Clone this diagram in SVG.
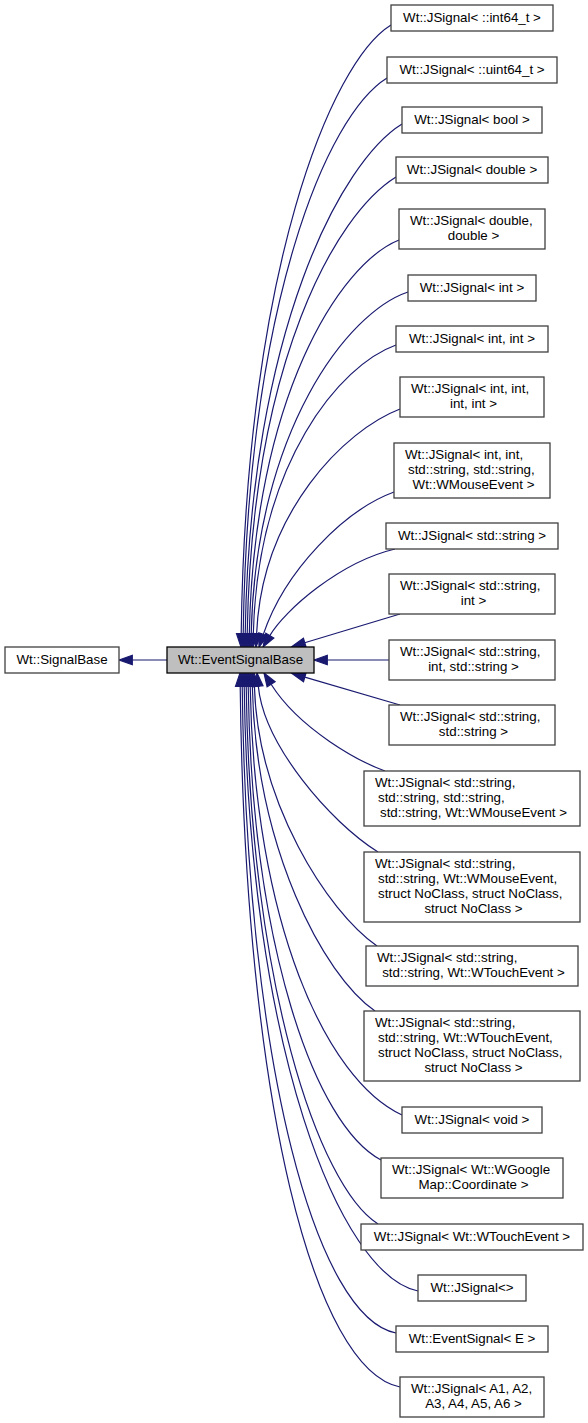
<svg xmlns="http://www.w3.org/2000/svg" width="588" height="1423" viewBox="0 0 588 1423">
<style>
.node rect{fill:#fff;stroke:#404040;stroke-width:1.3}
.node.hl rect{fill:#bfbfbf;stroke:#000}
.node text{font-family:"Liberation Sans",Arial,Helvetica,sans-serif;font-size:13.33px;fill:#000}
.m{text-anchor:middle}
.s{text-anchor:start}
.edge path{fill:none;stroke:#191970;stroke-width:1.2}
.edge polygon{fill:#191970;stroke:#191970;stroke-width:1.2}
</style>
<rect width="588" height="1423" fill="#fff"/>
<g id="connectors" class="edge">
<path d="M167,660 L132.3,660"/><polygon points="119,660 132.3,655.3 132.3,664.7"/>
<path d="M391,25 C331,62 246,270 241.2,633.7"/><polygon points="241,647 236.5,633.6 245.9,633.8"/>
<path d="M387,78 C327,115 248,302 243.2,633.7"/><polygon points="243,647 238.5,633.6 247.9,633.8"/>
<path d="M402,124 C342,161 250,329 245.2,633.7"/><polygon points="245,647 240.5,633.6 249.9,633.8"/>
<path d="M396,177 C336,214 252,361 247.2,633.7"/><polygon points="247,647 242.5,633.6 251.9,633.8"/>
<path d="M399,240 C339,264 254,399 249.3,633.7"/><polygon points="249,647 244.6,633.6 254,633.8"/>
<path d="M408,292 C348,312 256,430 251.2,633.7"/><polygon points="251,647 246.5,633.6 255.9,633.8"/>
<path d="M396,345 C340,365 258,462 253.3,633.7"/><polygon points="253,647 248.6,633.6 258,633.8"/>
<path d="M400,409 C345,430 262,512 256.6,633.7"/><polygon points="256,647 251.9,633.5 261.3,633.9"/>
<path d="M394,492 C345,510 285,570 263.3,634.4"/><polygon points="259,647 258.8,632.9 267.7,635.9"/>
<path d="M395,549 C340,562 285,610 269.8,635.6"/><polygon points="263,647 265.8,633.2 273.8,638"/>
<path d="M400,614 L304.7,642.7"/><polygon points="292,646.5 303.4,638.2 306.1,647.2"/>
<path d="M389,660 L327.3,660"/><polygon points="314,660 327.3,655.3 327.3,664.7"/>
<path d="M400,705 L304.8,677.2"/><polygon points="292,673.5 306.1,672.7 303.5,681.7"/>
<path d="M385,771 C360,762 300,730 271.1,684.3"/><polygon points="264,673 275.1,681.7 267.1,686.8"/>
<path d="M378,852 C330,822 264,745 258.3,686.2"/><polygon points="257,673 263,685.8 253.6,686.7"/>
<path d="M377,946 C327,911 258,803 254.4,686.3"/><polygon points="254,673 259.1,686.2 249.7,686.4"/>
<path d="M375,1011 C323,975 256,848 252.3,686.3"/><polygon points="252,673 257,686.2 247.6,686.4"/>
<path d="M402,1115 C326,1080 254,922 250.2,686.3"/><polygon points="250,673 254.9,686.2 245.5,686.4"/>
<path d="M381,1160 C315,1125 252,947 248.2,686.3"/><polygon points="248,673 252.9,686.2 243.5,686.4"/>
<path d="M378,1224 C318,1186 250,982 246.2,686.3"/><polygon points="246,673 250.9,686.2 241.5,686.4"/>
<path d="M418,1291 C340,1275 249,1049 244.2,686.3"/><polygon points="244,673 248.9,686.2 239.5,686.4"/>
<path d="M396,1333 C318,1318 247,1074 242.2,686.3"/><polygon points="242,673 246.9,686.2 237.5,686.4"/>
<path d="M400,1387 C315,1370 245,1107 240.2,686.3"/><polygon points="240,673 244.9,686.2 235.5,686.4"/>
</g>
<g id="node_signalbase" class="node"><rect x="5" y="647" width="114" height="26"/><text class="m" x="62" y="664">Wt::SignalBase</text></g>
<g id="node_eventsignalbase" class="node hl"><rect x="167" y="647" width="147" height="26"/><text class="m" x="240.5" y="664">Wt::EventSignalBase</text></g>
<g id="node_int64" class="node"><rect x="391" y="5" width="162" height="26"/><text class="m" x="472" y="22">Wt::JSignal&lt; ::int64_t &gt;</text></g>
<g id="node_uint64" class="node"><rect x="387" y="57" width="170" height="26"/><text class="m" x="472" y="73.5">Wt::JSignal&lt; ::uint64_t &gt;</text></g>
<g id="node_bool" class="node"><rect x="402" y="107" width="140" height="26"/><text class="m" x="472" y="123.5">Wt::JSignal&lt; bool &gt;</text></g>
<g id="node_double" class="node"><rect x="396" y="157" width="152" height="26"/><text class="m" x="472" y="173.5">Wt::JSignal&lt; double &gt;</text></g>
<g id="node_double_double" class="node"><rect x="399" y="209" width="146" height="40"/><text class="s" x="410" y="225">Wt::JSignal&lt; double,</text><text class="m" x="473.5" y="240">double &gt;</text></g>
<g id="node_int" class="node"><rect x="408" y="275" width="128" height="26"/><text class="m" x="472" y="291.5">Wt::JSignal&lt; int &gt;</text></g>
<g id="node_int_int" class="node"><rect x="396" y="326" width="152" height="26"/><text class="m" x="472" y="342.5">Wt::JSignal&lt; int, int &gt;</text></g>
<g id="node_int4" class="node"><rect x="400" y="377" width="144" height="40"/><text class="s" x="411" y="393">Wt::JSignal&lt; int, int,</text><text class="m" x="473.5" y="408">int, int &gt;</text></g>
<g id="node_int_mouse" class="node"><rect x="394" y="443" width="156" height="55"/><text class="s" x="405" y="459">Wt::JSignal&lt; int, int,</text><text class="s" x="408" y="474">std::string, std::string,</text><text class="m" x="473.5" y="489">Wt::WMouseEvent &gt;</text></g>
<g id="node_string" class="node"><rect x="386" y="523" width="172" height="26"/><text class="m" x="472" y="539.5">Wt::JSignal&lt; std::string &gt;</text></g>
<g id="node_string_int" class="node"><rect x="389" y="574" width="166" height="40"/><text class="s" x="400" y="590">Wt::JSignal&lt; std::string,</text><text class="m" x="473.5" y="605">int &gt;</text></g>
<g id="node_string_int_string" class="node"><rect x="389" y="640" width="166" height="40"/><text class="s" x="400" y="656">Wt::JSignal&lt; std::string,</text><text class="m" x="473.5" y="671">int, std::string &gt;</text></g>
<g id="node_string_string" class="node"><rect x="389" y="705" width="166" height="40"/><text class="s" x="400" y="721">Wt::JSignal&lt; std::string,</text><text class="m" x="473.5" y="736">std::string &gt;</text></g>
<g id="node_string4_mouse" class="node"><rect x="364" y="771" width="216" height="55"/><text class="s" x="375" y="787">Wt::JSignal&lt; std::string,</text><text class="s" x="378" y="802">std::string, std::string,</text><text class="m" x="473.5" y="817">std::string, Wt::WMouseEvent &gt;</text></g>
<g id="node_string_mouse_noclass" class="node"><rect x="364" y="852" width="216" height="70"/><text class="s" x="375" y="868">Wt::JSignal&lt; std::string,</text><text class="s" x="378" y="883">std::string, Wt::WMouseEvent,</text><text class="s" x="378" y="898">struct NoClass, struct NoClass,</text><text class="m" x="473.5" y="913">struct NoClass &gt;</text></g>
<g id="node_string_touch" class="node"><rect x="366" y="946" width="212" height="40"/><text class="s" x="377" y="962">Wt::JSignal&lt; std::string,</text><text class="m" x="473.5" y="977">std::string, Wt::WTouchEvent &gt;</text></g>
<g id="node_string_touch_noclass" class="node"><rect x="364" y="1011" width="216" height="70"/><text class="s" x="375" y="1027">Wt::JSignal&lt; std::string,</text><text class="s" x="378" y="1042">std::string, Wt::WTouchEvent,</text><text class="s" x="378" y="1057">struct NoClass, struct NoClass,</text><text class="m" x="473.5" y="1072">struct NoClass &gt;</text></g>
<g id="node_void" class="node"><rect x="402" y="1107" width="140" height="26"/><text class="m" x="472" y="1123.5">Wt::JSignal&lt; void &gt;</text></g>
<g id="node_wgooglemap" class="node"><rect x="381" y="1158" width="182" height="40"/><text class="s" x="392" y="1174">Wt::JSignal&lt; Wt::WGoogle</text><text class="m" x="473.5" y="1189">Map::Coordinate &gt;</text></g>
<g id="node_wtouchevent" class="node"><rect x="361" y="1224" width="222" height="26"/><text class="m" x="472" y="1240.5">Wt::JSignal&lt; Wt::WTouchEvent &gt;</text></g>
<g id="node_jsignal_empty" class="node"><rect x="418" y="1275" width="108" height="26"/><text class="m" x="472" y="1291.5">Wt::JSignal&lt;&gt;</text></g>
<g id="node_eventsignal_e" class="node"><rect x="396" y="1326" width="152" height="26"/><text class="m" x="472" y="1342.5">Wt::EventSignal&lt; E &gt;</text></g>
<g id="node_a1_a6" class="node"><rect x="400" y="1377" width="144" height="40"/><text class="s" x="411" y="1393">Wt::JSignal&lt; A1, A2,</text><text class="m" x="473.5" y="1408">A3, A4, A5, A6 &gt;</text></g>
</svg>
